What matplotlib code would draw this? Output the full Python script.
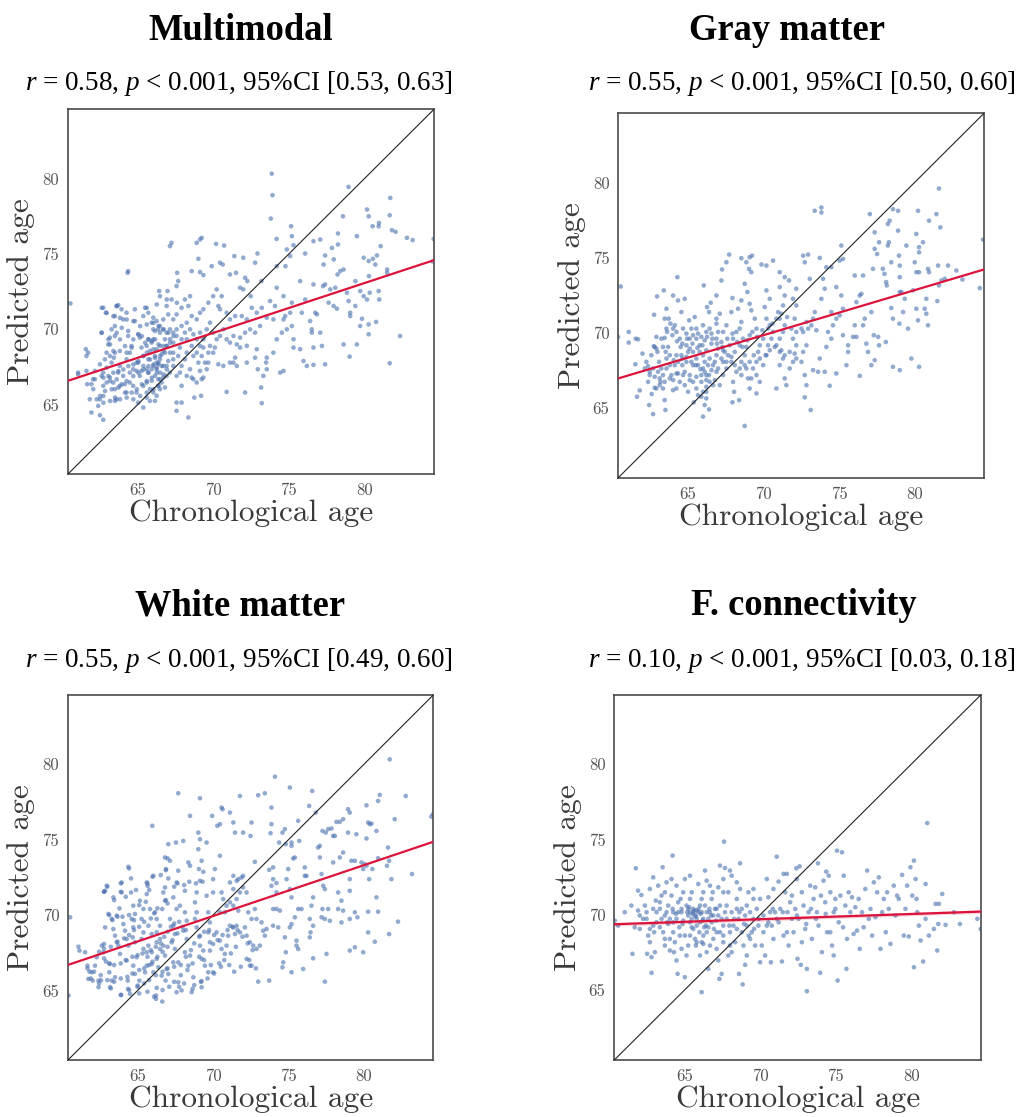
import matplotlib
matplotlib.use("Agg")
import matplotlib.pyplot as plt
import numpy as np

# ---------------- data ----------------
titles = ["Multimodal", "Gray matter", "White matter", "F. connectivity"]
stats = [r"$r$ = 0.58, $p$ < 0.001, 95%CI [0.53, 0.63]",
         r"$r$ = 0.55, $p$ < 0.001, 95%CI [0.50, 0.60]",
         r"$r$ = 0.55, $p$ < 0.001, 95%CI [0.49, 0.60]",
         r"$r$ = 0.10, $p$ < 0.001, 95%CI [0.03, 0.18]"]
tick_values = [65, 70, 75, 80]
tick_labels = ["65", "70", "75", "80"]
axis_limits = [60.38, 84.6]
# regression line: predicted age at left and right axis limits
fit_left = [66.58, 66.98, 66.69, 69.38]
fit_right = [74.59, 74.22, 74.86, 70.22]
fit_ci_half = [0.0, 0.0, 0.0, 0.12]

mm_pts = [
(60.56,71.72),(73.87,80.33),(73.92,78.9),(78.95,79.45),(81.71,78.72),(81.67,77.57),(80.17,77.95),(80.28,77.5),
(78.58,77.5),(80.54,76.84),(80.96,77.06),(80.94,76.84),(81.82,76.58),(82.06,76.47),(82.81,76.07),(83.19,75.92),
(84.58,76.0),(84.5,74.5),(81.07,75.52),(78.25,76.36),(79.5,76.18),(78.25,75.63),(77.85,75.4),(77.97,74.64),
(77.08,75.96),(76.63,75.85),(76.08,75.03),(77.4,74.9),(77.3,74.3),(79.95,74.75),(80.28,74.53),(80.56,74.68),
(80.72,74.3),(80.83,74.9),(80.3,73.53),(79.4,73.2),(81.5,73.97),(81.5,73.75),(78.4,73.86),(78.22,73.64),
(78.62,73.97),(76.63,72.98),(77.4,72.98),(77.74,72.65),(78.07,72.76),(78.84,72.43),(79.72,72.54),(79.95,72.2),
(80.17,71.98),(80.35,72.43),(80.94,72.54),(80.98,71.98),(78.95,71.88),(79.06,71.1),(79.4,71.55),(79.84,70.7),
(79.72,70.22),(80.28,70.33),(80.28,69.67),(80.77,70.49),(82.36,69.56),(81.67,67.75),(79.5,69.0),(79.02,68.19),
(78.62,69.0),(77.96,71.55),(78.18,71.37),(79.06,70.88),(77.63,71.77),(77.26,72.87),(76.75,71.1),(76.86,70.99),
(75.86,71.1),(76.41,70.55),(76.52,70.0),(76.52,69.78),(77.08,69.78),(77.19,68.9),(76.63,68.79),(77.4,67.68),
(76.63,67.64),(75.97,67.9),(76.19,67.57),(75.31,69.34),(75.31,68.79),(75.75,68.68),(75.2,70.22),(75.09,71.1),
(75.2,71.77),(75.75,73.2),(76.08,71.98),(74.65,72.2),(74.76,70.88),(74.65,70.66),(74.87,70.0),(74.54,69.78),
(74.2,69.34),(74.65,67.24),(74.43,67.13),(73.54,67.35),(73.32,66.91),(73.17,66.14),(73.21,65.1),(73.5,67.8),
(73.54,68.12),(73.98,68.45),(72.88,68.68),(72.77,68.12),(72.95,67.35),(72.22,68.9),(72.22,67.79),(72.11,65.81),
(71.78,68.79),(71.56,67.57),(71.34,67.79),(71.45,68.12),(71.11,67.79),(70.89,65.85),(70.67,67.57),(70.34,67.68),
(70.0,68.45),(70.11,68.79),(69.68,67.79),(69.57,67.35),(69.35,66.8),(69.24,66.69),(68.91,66.47),(68.69,66.69),
(68.75,65.47),(69.2,65.59),(68.36,64.15),(67.91,65.14),(67.58,64.59),(67.58,65.14),(67.91,66.25),(68.25,66.91),
(67.58,66.91),(67.14,67.13),(66.81,66.14),(66.48,66.03),(66.26,65.59),(66.15,65.25),(65.82,65.25),(65.6,65.47),
(65.38,64.81),(65.04,65.14),(64.93,65.81),(64.71,66.25),(64.27,65.81),(64.49,66.47),(63.61,65.36),(63.5,65.25),
(62.73,65.58),(62.51,65.36),(62.4,64.92),(61.84,65.36),(61.95,64.48),(62.51,64.3),(62.73,64.0),(61.67,66.36),
(61.95,66.36),(62.06,66.69),(61.62,67.24),(61.62,68.23),(61.58,68.68),(61.73,68.45),(61.07,67.13),(61.07,67.02),
(62.18,67.24),(62.51,67.68),(62.73,67.13),(62.95,67.46),(62.84,68.01),(63.17,68.23),(63.06,69.0),(62.62,69.78),
(62.73,71.43),(62.9,71.1),(63.5,70.88),(63.5,70.22),(63.28,70.0),(63.17,69.45),(63.5,69.56),(63.61,71.55),
(63.72,71.6),(63.94,71.33),(64.05,70.66),(64.27,71.1),(64.38,69.89),(64.38,69.56),(64.34,73.75),(64.38,73.86),
(64.82,71.33),(64.82,70.55),(65.04,69.67),(65.15,69.45),(64.6,68.9),(64.49,68.45),(64.27,68.01),(63.83,68.56),
(63.5,68.45),(63.43,68.12),(63.83,67.57),(63.72,67.13),(64.05,66.91),(63.83,66.25),(64.16,66.36),(64.49,67.13),
(64.71,67.35),(64.93,67.79),(64.93,67.24),(65.15,66.91),(65.38,67.57),(65.6,67.35),(65.71,68.01),(65.38,68.23),
(65.26,68.79),(65.6,68.9),(65.82,68.57),(65.93,69.12),(66.04,69.34),(65.71,69.34),(66.15,69.89),(66.37,70.0),
(66.48,69.78),(66.04,70.0),(65.93,70.44),(66.04,70.77),(65.71,71.1),(65.6,71.43),(65.38,70.88),(66.26,70.55),
(66.48,70.22),(66.7,70.0),(66.92,69.78),(67.14,70.0),(66.81,69.34),(66.92,68.9),(66.48,68.9),(66.26,68.68),
(66.15,68.23),(66.48,68.01),(66.37,67.68),(66.04,67.57),(66.26,67.35),(66.48,67.13),(66.15,66.91),(65.93,66.58),
(66.37,66.69),(66.7,66.8),(66.92,66.91),(66.92,67.57),(67.36,67.57),(67.36,68.01),(67.36,68.45),(67.69,68.23),
(67.8,68.79),(67.91,69.34),(67.58,69.56),(67.36,69.12),(68.13,69.78),(68.25,69.34),(68.58,68.9),(68.69,68.23),
(68.91,68.45),(69.02,67.79),(69.24,68.23),(69.13,68.9),(69.35,69.34),(69.13,69.78),(69.57,70.0),(69.79,70.44),
(70.0,69.78),(70.23,69.34),(70.45,69.56),(70.67,70.0),(70.89,69.34),(71.11,69.12),(71.34,69.56),(71.56,69.0),
(71.78,69.45),(72.11,69.78),(72.44,70.0),(72.77,69.78),(72.22,70.66),(71.89,70.88),(71.45,70.88),(71.11,70.66),
(70.89,71.1),(70.45,71.33),(70.34,71.55),(70.56,72.2),(70.23,72.65),(70.0,72.2),(69.68,71.77),(69.35,71.33),
(69.13,71.1),(68.91,70.66),(68.58,70.88),(68.36,71.55),(68.47,72.2),(68.13,71.98),(67.91,71.43),(67.58,70.99),
(67.36,70.66),(67.03,70.99),(66.7,70.66),(66.92,71.55),(67.25,71.98),(67.58,72.87),(67.69,73.2),(67.62,73.75),
(66.98,72.54),(66.43,72.54),(66.48,72.2),(67.14,75.52),(67.25,75.74),(68.91,75.74),(69.13,75.96),(69.24,76.07),
(69.02,74.68),(69.13,73.8),(68.58,73.86),(69.35,73.6),(69.9,74.19),(70.19,75.67),(70.45,74.42),(70.63,74.3),
(70.72,75.56),(71.4,74.86),(71.11,73.64),(71.51,73.75),(71.99,74.75),(71.78,72.76),(71.99,72.65),(72.26,73.2),
(72.77,74.42),(72.93,75.03),(72.48,72.2),(72.11,73.42),(73.81,77.35),(74.19,76.0),(73.19,73.2),(73.76,71.88),
(74.09,71.55),(74.2,72.76),(74.2,74.19),(74.78,74.19),(74.87,75.3),(75.2,76.18),(75.15,76.84),(75.31,75.58),
(75.09,74.86),(73.98,70.66),(73.54,70.77),(73.1,70.22),(72.88,71.1),(72.55,71.43),(73.21,71.43),
(62.95,68.45),(62.18,66.69),(62.07,66.03),(62.95,66.47),(63.17,66.8),(63.39,66.47),(63.5,66.03),(62.73,66.25),
(62.62,66.91),(63.28,67.79),(65.38,66.25),(65.6,66.47),(65.82,66.03),(66.04,65.81),(66.37,66.25),(66.59,66.47),
(66.26,67.79),(65.93,67.35),(65.71,67.13),(65.26,67.24),(65.04,67.79),(66.7,67.57),(67.03,67.9),(67.14,68.45),
(66.81,68.45),(66.59,68.34),(66.7,68.9),(67.14,69.34),(67.36,69.78),(67.58,70.0),(67.91,70.22),(68.25,70.44),
(68.47,70.0),(68.69,69.67),(68.91,69.34),(68.25,68.45),(68.13,68.01),(67.91,67.57),(67.8,67.13),(68.47,67.35),
(68.58,66.8),(69.13,67.24),(69.46,67.79),(69.68,68.45),(69.79,68.9),(69.35,68.79),
(62.63,69.77),(63.07,69.33),(63.18,69.0),(63.40,68.56),(63.62,69.77),(63.95,70.1),(63.84,69.33),(64.17,68.89),
(64.28,68.45),(64.61,68.78),(64.72,69.33),(65.06,69.66),(65.28,69.55),(65.50,69.11),(65.72,69.33),(65.94,69.22),
(66.16,69.33),(66.38,69.0),(66.05,68.67),(65.61,68.45),(65.39,68.23),(65.06,67.89),(64.72,67.67),(64.39,67.56),
(64.06,67.34),(63.73,67.23),(63.40,67.12),(63.07,66.9),(62.74,66.79),(63.18,66.57),(63.62,66.68),(63.95,66.35),
(64.28,66.57),(64.72,66.9),(65.06,67.12),(65.39,67.34),(65.72,67.56),(66.05,67.67),(66.38,67.78),(66.6,67.56),
(66.27,67.12),(65.94,66.79),(65.61,66.57),(65.28,66.35),(64.95,66.02),(64.61,65.8),(64.17,65.8),(63.73,66.13),
(63.29,66.02),(62.85,65.91),(62.52,65.58),(62.30,65.36),(62.74,65.13),(63.18,65.25),(63.51,65.47),(63.84,65.36),
(64.28,65.47),(64.72,65.36),(65.17,65.58),(65.61,65.8),(66.05,66.02),(66.38,66.24),(66.49,66.68),(66.71,67.01),
(66.93,67.34),(65.72,67.12),(66.27,67.45),(65.83,68.0),(66.16,68.11),(66.49,68.23),(66.71,68.56),(66.93,68.89),
(67.15,69.11),(67.37,69.55),(67.04,69.77),(66.71,69.99),(66.38,70.21),(66.05,70.43),(65.61,70.32),(65.17,70.21),
(64.72,70.54),(64.28,70.65),(63.84,70.76),(63.40,70.87),(62.96,71.09),(62.63,71.43),(63.62,71.54),(65.50,71.43),
(66.27,71.65),(66.93,71.98),(67.6,71.76)]

gm_pts = [
(60.54,73.09),(60.36,69.74),(61.07,70.07),(61.07,69.36),(61.53,69.62),(61.69,69.58),(61.51,67.92),(61.62,65.76),
(61.8,66.18),(61.98,68.63),(62.13,67.64),(62.35,67.79),(62.42,65.21),(62.68,64.61),(62.59,65.94),(62.79,66.36),
(62.73,69.12),(62.79,69.07),(62.9,69.74),(62.75,71.21),(62.95,72.43),(62.97,68.74),(63.08,68.08),(63.01,67.42),
(63.12,66.98),(63.17,66.75),(63.34,66.31),(63.45,65.54),(63.5,64.88),(63.39,72.83),(63.57,71.61),(63.45,70.95),
(63.57,70.29),(63.45,69.67),(63.68,69.07),(63.57,68.3),(63.79,67.86),(63.9,67.2),(64.01,66.87),(64.01,66.2),
(64.23,66.31),(63.72,70.95),(63.83,70.62),(64.01,70.29),(64.12,70.51),(64.23,70.07),(64.34,72.16),(64.29,73.71),
(64.01,72.49),(64.78,72.27),(64.56,71.39),(64.45,69.62),(64.51,69.07),(64.56,68.52),(64.62,67.86),(64.78,67.42),
(64.89,68.08),(65.0,68.74),(65.11,69.62),(65.07,70.84),(65.44,71.06),(65.55,70.29),(65.55,69.62),(65.77,69.18),
(65.33,68.74),(65.55,68.3),(65.33,67.86),(65.11,67.2),(65.33,66.75),(65.55,66.31),(65.38,65.39),(65.66,65.87),
(65.88,65.76),(65.99,66.09),(65.99,64.44),(66.1,65.21),(66.39,64.92),(66.21,65.65),(66.21,66.42),(66.43,66.75),
(66.21,67.2),(65.99,67.64),(66.32,67.86),(65.99,68.52),(66.21,68.85),(66.43,68.3),(66.1,69.51),(66.55,69.29),
(66.21,70.07),(66.55,69.96),(66.43,70.29),(65.99,70.51),(66.04,73.16),(66.26,71.72),(66.39,71.39),(66.5,72.01),
(66.88,70.95),(66.88,70.62),(67.1,71.28),(66.88,72.49),(67.21,73.49),(67.25,74.22),(67.54,74.7),(67.72,75.21),
(67.94,72.32),(67.87,71.39),(67.54,70.51),(67.32,70.07),(66.88,69.62),(66.99,68.96),(66.88,68.52),(66.77,68.08),
(66.88,67.42),(66.77,66.87),(66.66,66.53),(67.1,66.53),(67.32,67.2),(67.54,67.64),(67.32,68.08),(67.65,68.52),
(67.32,68.85),(67.76,69.18),(67.98,69.62),(68.2,70.07),(68.42,70.29),(68.53,70.73),(68.31,71.61),(68.53,72.16),
(68.75,73.27),(68.53,74.97),(68.86,74.7),(69.08,75.03),(69.24,75.14),(69.19,74.04),(69.04,74.26),(68.93,72.72),
(69.08,71.94),(69.19,71.5),(69.42,70.95),(69.53,70.29),(69.08,69.85),(68.86,69.07),(68.75,68.52),(68.53,68.08),
(68.2,67.42),(67.98,66.75),(68.05,66.09),(67.94,65.39),(68.38,65.54),(68.75,63.82),(69.08,66.31),(69.19,66.98),
(69.3,67.64),(69.53,68.08),(69.64,68.74),(69.75,69.18),(69.97,69.62),(69.53,67.2),(69.75,66.75),(69.53,65.98),
(69.97,67.86),(70.19,68.52),(70.3,69.18),(70.52,69.62),(70.63,70.07),(70.41,70.51),(70.19,70.95),(70.08,71.72),
(70.41,72.27),(70.19,72.83),(69.86,74.55),(70.19,74.48),(70.63,74.81),(71.07,74.04),(71.4,73.71),(71.07,73.05),
(71.69,73.49),(71.4,72.49),(71.29,71.83),(70.96,71.39),(71.07,70.95),(71.4,70.51),(71.29,70.07),(71.07,69.62),
(70.85,69.18),(71.18,68.85),(71.29,68.3),(71.07,67.86),(71.4,66.98),(71.51,66.53),(70.85,66.31),(71.73,67.64),
(71.95,68.08),(72.06,68.63),(72.17,69.18),(71.95,69.62),(72.06,70.95),(72.17,71.83),(71.95,72.27),(72.17,72.94),
(72.62,75.14),(72.95,75.21),(72.73,74.7),(73.06,73.6),(73.39,78.12),(73.83,78.34),(73.83,78.01),(73.72,74.99),
(73.94,73.6),(74.05,72.94),(73.83,72.27),(73.39,71.39),(73.28,70.95),(72.95,70.29),(72.62,70.07),(72.84,69.18),
(72.62,68.74),(72.51,68.08),(72.73,67.2),(72.84,66.53),(72.73,65.72),(73.12,64.88),(73.28,67.53),(73.61,67.42),
(74.05,67.42),(73.72,68.3),(74.16,69.07),(74.49,69.62),(74.27,70.07),(74.6,70.51),(74.82,70.95),(74.49,71.39),
(75.04,71.17),(74.82,73.05),(75.15,72.49),(75.15,75.81),(75.26,74.92),(75.04,74.81),(74.49,74.37),(74.16,74.37),
(75.26,71.61),(75.26,69.85),(75.6,68.74),(75.49,67.86),(74.82,67.31),(74.38,66.49),(75.6,69.18),(75.93,69.74),
(76.15,69.74),(76.04,70.51),(76.15,72.05),(76.04,73.82),(76.37,72.49),(76.48,72.6),(76.59,70.51),(76.7,70.95),
(76.81,69.29),(76.92,68.74),(76.37,67.15),(76.59,73.82),(77.04,77.9),(77.25,74.26),(77.36,75.59),(77.52,75.25),
(77.65,76.03),(77.36,76.69),(77.14,71.39),(77.3,69.85),(77.65,69.18),(77.59,69.74),(77.36,68.19),(77.14,67.86),
(78.1,69.4),(77.9,74.26),(78.01,73.93),(78.12,73.38),(78.16,73.16),(78.23,77.24),(78.35,77.46),(78.57,78.23),
(78.23,75.81),(78.3,76.03),(78.46,74.7),(78.46,71.66),(78.57,70.95),(78.57,67.75),(78.91,78.12),(78.91,76.8),
(78.97,75.14),(79.02,74.48),(79.02,73.71),(79.02,72.72),(79.13,72.72),(79.0,70.62),(79.02,67.53),(79.24,71.39),
(79.35,72.27),(79.46,75.81),(79.57,70.29),(79.79,68.3),(79.9,72.83),(80.01,74.7),(80.12,74.04),(80.12,76.58),
(80.23,78.12),(80.3,75.7),(80.3,75.36),(80.3,74.04),(80.12,71.61),(80.23,70.84),(80.3,67.75),(80.56,76.03),
(80.67,71.61),(80.78,72.27),(80.78,71.28),(80.89,74.26),(80.96,74.04),(80.96,77.46),(81.45,77.9),(81.62,79.6),
(81.71,77.02),(81.56,74.48),(81.51,72.12),(81.62,73.16),(81.78,73.49),(82.0,73.6),(82.22,74.48),(82.77,74.15),
(83.17,73.55),(84.32,72.98),(84.54,76.2),(80.89,70.51),
(64.67,70.29),(64.89,69.96),(65.22,70.29),(65.33,69.85),(65.66,69.96),(65.88,69.74),(64.89,69.18),(65.11,68.96),
(65.77,68.74),(65.66,67.86),(65.88,67.2),(66.1,68.08),(66.55,67.53),(66.21,66.87),(64.23,68.52),(64.12,67.86),
(64.34,67.31),(64.45,66.75),(64.78,66.53),(65.0,66.09),(63.57,67.64),(63.34,67.2),(63.23,67.64),(62.68,67.64),
(62.46,67.2),(62.35,66.75),(62.9,66.31),(66.99,70.07),(67.21,69.4),(67.43,68.74),(67.87,68.08),(68.09,68.74),
(68.42,69.18),(68.64,69.62),(68.53,67.2),(68.86,67.64),(68.97,66.98),
(63.34,69.07),(63.52,68.74),(63.79,68.52),(64.05,68.19),(64.34,68.08),(64.62,68.3),(64.89,68.41),(65.22,68.08),
(65.51,67.86),(65.82,67.59),(66.1,67.42),(66.39,67.2),(66.66,67.86),(66.99,67.64),(67.21,68.3),(67.54,68.08),
(67.87,68.41),(68.09,67.86),(68.42,67.64),(68.75,67.86),(69.08,68.08),(69.35,68.52),(69.75,68.3),(70.14,68.52),
(70.41,68.85),(70.74,69.07),(71.07,68.74),(71.4,68.52),(71.73,68.74),(72.17,68.3),(65.88,66.75),(66.21,66.09),
(65.55,67.09),(65.11,66.87),(64.67,67.2),(64.23,67.31),(63.79,66.98),(63.45,66.75),(63.12,66.53),(62.79,67.09),
(62.46,67.42),(62.24,68.08),(62.57,68.52),(62.9,68.96),(63.23,69.62),(63.61,70.07),(63.96,69.85),(64.27,69.45),
(64.62,69.29),(64.93,69.62),(65.29,69.29),(65.62,69.01),(65.95,69.18),(66.26,69.74),(66.61,69.62),(66.92,69.29),
(67.27,69.07),(67.6,69.62),(67.94,69.96),(68.25,69.4),(68.6,69.07),(68.93,69.51),(69.26,70.07),(69.57,69.74),
(69.92,70.18),(70.3,70.29),(70.59,70.62),(70.85,70.95),(71.18,71.28),(71.56,71.06),(71.84,70.29),(72.17,70.07),
(72.51,70.29),(72.84,70.73),(73.17,70.51),(73.5,70.18)]

wm_pts = [
(60.52,69.85),(60.41,64.66),(61.07,67.9),(61.14,67.64),(61.51,67.53),(61.67,66.64),(61.8,66.25),(61.73,65.76),
(62.02,65.65),(61.95,66.2),(62.17,66.64),(62.28,67.2),(62.4,65.65),(62.57,65.67),(62.4,65.21),(62.62,67.97),
(62.77,68.08),(62.84,69.18),(62.73,67.53),(62.9,66.91),(63.17,66.75),(63.12,66.2),(63.28,65.65),(63.5,65.87),
(63.17,65.21),(62.84,71.61),(62.95,71.94),(62.77,71.55),(63.06,70.07),(63.28,69.74),(63.39,69.07),(63.5,68.63),
(63.61,68.19),(63.72,67.97),(63.83,67.42),(63.39,71.17),(63.61,69.96),(63.79,70.44),(63.94,72.16),(63.94,71.5),
(63.9,64.7),(64.05,69.4),(64.16,68.96),(64.27,68.41),(64.38,67.97),(64.27,66.98),(64.34,65.65),(64.36,65.1),
(64.49,64.77),(64.38,73.2),(64.56,72.43),(64.56,71.5),(64.71,70.62),(64.82,70.07),(64.6,69.74),(64.71,69.18),
(64.67,68.52),(64.82,68.19),(64.93,67.2),(64.71,66.64),(64.82,66.09),(65.0,65.32),(65.11,65.65),(64.89,71.66),
(65.15,70.95),(65.38,70.4),(65.26,69.74),(65.38,68.85),(65.26,68.41),(65.38,67.75),(65.6,67.53),(65.6,72.16),
(65.66,71.94),(65.6,71.39),(65.82,70.4),(65.71,69.29),(65.93,68.74),(65.71,67.97),(65.93,67.53),(65.6,66.64),
(65.49,66.2),(65.93,66.75),(66.04,66.2),(66.26,67.09),(66.37,66.53),(66.59,65.98),(66.21,64.66),(66.21,64.44),
(66.63,64.26),(66.26,65.17),(65.97,75.92),(66.04,72.6),(66.15,70.18),(66.26,69.74),(66.48,69.29),(66.26,68.85),
(66.48,68.41),(66.7,67.97),(66.26,68.19),(66.48,67.75),(66.81,67.31),(66.92,66.42),(67.03,66.09),(66.85,65.65),
(66.63,70.4),(66.81,70.95),(66.7,71.5),(66.81,71.83),(67.03,72.43),(66.88,73.05),(66.81,73.82),(67.03,74.7),
(67.14,73.6),(67.14,69.74),(67.36,69.29),(67.47,68.74),(67.25,68.19),(67.47,67.75),(67.36,66.86),(67.69,66.86),
(67.69,65.54),(67.58,64.88),(67.91,65.0),(67.58,70.4),(67.8,70.62),(67.36,71.17),(67.58,72.16),(67.69,72.94),
(67.69,78.08),(67.54,74.81),(68.02,74.92),(68.13,71.61),(68.13,70.18),(68.25,69.62),(68.02,68.96),(68.25,68.41),
(68.13,67.53),(68.47,67.31),(68.36,66.64),(68.58,64.88),(68.64,65.1),(68.69,65.87),(69.24,65.21),(69.24,65.61),
(68.47,76.58),(68.36,73.49),(68.47,73.27),(69.13,77.75),(69.02,75.47),(69.13,75.03),(69.02,74.37),(69.24,73.6),
(69.06,73.05),(69.35,72.87),(69.13,72.27),(68.91,71.5),(68.8,70.84),(68.91,70.18),(68.8,69.74),(68.91,69.18),
(69.13,68.63),(69.13,67.97),(69.35,67.64),(69.24,67.09),(69.46,66.64),(69.68,66.2),(70.0,66.2),(69.57,74.81),
(69.57,71.28),(69.68,70.18),(69.79,69.51),(69.68,68.85),(69.79,68.19),(69.79,67.64),(70.0,68.08),(70.0,71.5),
(70.0,72.38),(70.12,73.05),(69.94,76.58),(70.28,75.92),(70.45,76.03),(70.56,77.13),(70.45,73.93),(70.63,77.02),
(71.12,76.8),(71.34,76.14),(71.45,75.47),(71.78,77.9),(71.99,75.47),(72.48,75.25),(72.55,76.14),(72.77,73.53),
(72.99,77.95),(73.43,78.08),(73.87,77.13),(73.87,76.03),(73.81,75.43),(74.1,79.18),(73.98,73.16),(73.72,73.0),
(74.2,72.12),(73.98,72.38),(73.87,71.94),(74.2,71.5),(74.38,74.81),(74.6,75.47),(74.76,75.7),(74.82,74.7),
(75.09,78.46),(75.2,74.81),(75.2,74.59),(75.31,73.75),(75.42,73.82),(75.09,71.72),(75.2,71.17),(74.87,72.38),
(74.98,73.05),(75.64,76.25),(75.71,74.92),(76.08,73.16),(76.19,72.6),(76.08,72.6),(75.64,70.4),(75.86,70.4),
(75.42,69.85),(75.2,69.4),(75.09,69.18),(74.76,68.52),(74.82,67.53),(74.65,66.86),(74.6,66.53),(75.2,66.2),
(75.53,68.3),(75.53,67.97),(75.64,67.75),(75.97,66.42),(76.41,68.52),(76.46,68.85),(76.41,69.74),(76.63,69.29),
(76.52,70.62),(76.63,71.17),(76.37,77.24),(76.57,78.23),(76.81,76.8),(76.96,74.48),(77.08,74.59),(77.08,73.82),
(77.19,72.72),(77.25,70.4),(77.19,69.85),(77.41,69.74),(77.3,71.94),(77.41,71.72),(76.63,67.13),(77.41,65.58),
(77.52,67.42),(77.63,70.4),(77.74,69.62),(77.25,75.58),(77.47,75.47),(77.63,75.7),(77.85,75.74),(77.96,75.25),
(78.07,75.25),(77.96,73.49),(78.18,76.18),(78.4,76.18),(78.62,76.36),(78.4,73.82),(78.62,74.15),(78.29,71.5),
(78.51,70.95),(78.29,70.4),(78.51,69.51),(78.62,70.29),(78.95,77.02),(79.06,76.8),(78.95,75.47),(79.17,73.6),
(79.4,73.6),(79.06,72.38),(79.06,71.61),(79.06,69.74),(79.06,67.64),(79.4,67.86),(79.5,75.36),(79.57,69.85),
(79.4,70.18),(79.84,73.49),(79.95,73.05),(80.06,73.38),(80.17,77.28),(80.17,75.08),(80.28,76.14),(80.39,76.03),
(80.5,76.07),(80.17,73.27),(80.35,72.38),(80.28,70.22),(80.28,68.85),(79.95,67.53),(80.56,73.05),(80.72,68.23),
(80.83,71.17),(80.94,70.22),(80.94,73.77),(80.94,77.57),(81.05,77.97),(80.83,75.58),(81.6,74.48),(81.53,73.27),
(81.67,73.6),(81.67,68.74),(81.71,80.33),(81.82,72.38),(82.04,76.36),(82.26,69.56),(82.77,77.9),(83.19,72.72),
(84.47,76.53),(84.58,76.69),
(70.23,68.85),(70.45,68.3),(70.56,67.75),(70.78,67.42),(70.89,67.97),(71.0,68.63),(71.11,69.29),(71.34,69.18),
(71.45,68.74),(71.56,69.29),(71.78,68.85),(72.11,69.18),(72.22,68.63),(72.44,68.19),(72.66,67.97),(72.88,67.75),
(73.1,67.97),(73.43,68.63),(73.54,69.07),(73.98,69.29),(74.32,69.18),(72.44,66.64),(72.55,66.64),(72.99,65.58),
(73.72,65.65),(72.22,67.09),(71.34,70.62),(71.56,71.06),(71.78,71.5),(71.99,71.83),(71.67,72.38),(71.56,72.27),
(71.34,71.72),(71.12,70.84),(70.89,70.62),(70.78,70.18),(70.45,70.18),(70.67,71.06),(70.56,71.5),(71.12,72.16),
(71.34,72.6),(71.99,72.6),(72.22,71.5),(72.55,69.74),(72.33,70.18),(72.77,70.4),(72.88,69.74),(73.21,69.51),
(73.32,68.96),(73.98,70.4),(74.2,70.4),(74.43,70.29),(71.89,72.49),(71.67,70.29),
(62.77,71.54),(62.99,71.88),(63.88,72.1),(64.43,73.09),(63.88,71.54),(64.21,71.21),(63.44,70.99),(63.11,70.0),
(63.33,69.66),(63.66,69.89),(63.99,69.89),(64.43,70.0),(64.76,69.66),(65.10,70.66),(65.54,70.88),(65.65,72.1),
(65.76,71.66),(65.98,72.54),(66.53,72.65),(66.87,72.98),(66.98,73.76),(67.42,71.88),(67.64,72.1),(68.08,71.99),
(68.42,72.21),(68.86,72.1),(69.3,72.21),(66.87,70.99),(66.98,70.77),(66.31,70.44),(66.09,70.11),(65.87,69.77),
(65.43,69.55),(65.10,69.22),(64.76,69.0),(64.43,68.67),(64.10,68.45),(63.66,68.23),(63.22,67.89),(62.77,67.78),
(62.44,67.56),(62.77,67.12),(63.11,66.79),(63.44,66.68),(63.88,66.79),(64.21,67.01),(64.65,67.23),(64.99,67.34),
(65.32,67.45),(65.65,67.23),(65.87,67.67),(66.2,67.89),(66.53,68.12),(66.76,68.56),(66.98,68.89),(67.2,69.22),
(67.42,69.44),(67.75,69.55),(67.97,69.22),(68.19,69.0),(67.64,68.78),(67.31,68.34),(66.98,67.89),(66.65,67.56),
(66.31,67.23),(65.98,66.9),(65.76,66.68),(65.43,66.46),(65.10,66.35),(64.65,66.12),(64.32,65.9),(63.88,65.79),
(63.44,65.57),(62.99,65.68),(62.55,66.01),(62.11,66.24),(61.67,66.46),(61.89,65.79),(62.44,65.46),(63.22,65.13),
(63.88,64.69),(64.43,65.02),(64.99,65.24),(65.43,65.46),(65.76,65.68),(66.2,66.01),(66.65,66.24),(66.98,66.46),
(67.42,66.57),(67.86,66.68),(68.19,67.23),(68.53,67.67),(68.75,68.12),(69.08,68.56),(69.41,68.89),(69.74,69.0),
(70.07,68.67),(70.3,68.34),(70.63,68.67),(70.96,69.0),(71.29,69.22),(71.62,69.0),(71.95,68.56),(72.29,68.12),
(72.62,67.67),(71.51,67.89),(71.18,67.45),(70.74,67.01),(70.41,66.79),(69.85,66.68),(69.41,67.01),(69.08,67.23),
(68.64,66.79),(68.3,66.35),(67.86,66.01),(67.42,65.57),(67.09,65.24),(66.65,65.02),(66.09,64.58),(65.65,64.91),
(65.10,64.8),(67.75,65.24),(68.08,65.46),(68.75,65.35),(69.19,65.57),(69.63,65.79),(70.07,66.12),(70.52,66.57),
(71.07,66.68),(71.4,66.24),(71.84,66.57),(72.4,67.01),(72.84,66.46)]

fc_pts = [
(60.41,69.62),(60.63,69.29),(61.07,70.18),(61.51,70.62),(61.58,67.42),(61.73,69.18),(61.8,73.09),(61.95,71.61),
(61.95,70.29),(62.06,69.07),(62.17,71.32),(62.28,69.74),(62.51,70.18),(62.51,69.74),(62.55,67.42),(62.62,68.63),
(62.73,71.72),(62.73,68.19),(62.84,66.16),(62.84,67.2),(62.95,72.49),(62.95,69.29),(63.01,68.85),(63.06,67.53),
(63.17,70.18),(63.28,71.94),(63.39,70.84),(63.39,70.4),(63.5,69.74),(63.57,73.16),(63.61,68.85),(63.72,71.5),
(63.72,67.97),(63.83,72.16),(63.83,70.18),(63.94,70.62),(63.94,69.4),(64.05,68.41),(64.05,67.64),(64.16,71.28),
(64.23,73.93),(64.27,70.18),(64.27,68.85),(64.38,68.19),(64.49,71.94),(64.49,66.98),(64.56,66.09),(64.6,70.84),
(64.67,69.18),(64.71,68.63),(64.82,70.18),(64.82,67.75),(64.93,71.5),(64.93,69.62),(65.04,72.38),(65.04,68.63),
(65.04,65.87),(65.15,67.31),(65.26,70.4),(65.26,69.96),(65.38,71.06),(65.38,70.18),(65.49,71.5),(65.49,69.74),
(65.49,69.18),(65.6,70.4),(65.6,70.18),(65.71,69.96),(65.71,68.41),(65.77,67.97),(65.82,70.29),(65.82,69.74),
(65.93,70.18),(65.93,72.05),(66.0,68.85),(66.04,67.31),(66.15,70.18),(66.15,64.88),(66.26,71.5),(66.26,69.74),
(66.26,68.08),(66.37,72.94),(66.37,70.62),(66.43,69.29),(66.48,68.85),(66.48,67.53),(66.59,66.42),(66.7,71.94),
(66.7,70.18),(66.81,71.06),(66.81,69.51),(66.88,71.5),(66.92,68.41),(67.03,70.4),(67.14,68.85),(67.14,67.75),
(67.25,71.83),(67.25,69.96),(67.32,65.76),(67.36,73.27),(67.47,66.09),(67.58,72.38),(67.58,69.29),(67.58,68.19),
(67.63,74.86),(67.69,73.11),(67.8,70.62),(67.8,69.74),(67.91,71.5),(67.91,67.31),(68.02,72.94),(68.02,68.85),
(68.13,72.6),(68.13,70.18),(68.25,69.29),(68.36,68.19),(68.47,71.06),(68.47,70.4),(68.58,69.74),(68.62,66.09),
(68.69,73.42),(68.69,71.72),(68.8,68.85),(68.86,65.39),(68.91,67.97),(69.02,69.96),(69.02,66.69),(69.13,70.62),
(69.13,69.29),(69.24,71.5),(69.35,70.18),(69.35,68.41),(69.46,68.85),(69.57,71.72),(69.57,69.74),(69.68,67.97),
(69.79,70.4),(69.9,69.29),(70.01,71.06),(70.12,67.97),(70.23,69.96),(70.34,67.31),(70.45,69.29),(70.56,71.17),
(70.67,70.18),(70.72,66.86),(70.78,69.29),(70.89,71.72),(70.89,68.41),(71.0,70.18),(71.11,73.86),(71.11,69.74),
(71.23,72.21),(71.34,70.4),(71.45,66.91),(71.56,72.72),(71.56,68.63),(71.67,71.5),(71.78,72.72),(71.82,70.18),
(71.89,67.97),(72.0,70.84),(72.11,69.74),(72.22,68.85),(72.33,70.4),(72.4,73.09),(72.44,72.38),(72.48,67.09),
(72.55,69.74),(72.62,73.22),(72.7,66.69),(72.77,71.5),(72.88,70.62),(72.99,69.07),(73.1,66.42),(73.1,64.94),
(73.21,70.18),(73.32,71.94),(73.43,68.41),(73.54,71.06),(73.65,71.83),(73.76,70.18),(73.83,73.42),(73.87,69.29),
(73.98,66.16),(74.09,67.53),(74.2,72.27),(74.31,70.84),(74.38,72.87),(74.43,68.85),(74.54,72.6),(74.65,71.5),
(74.76,67.97),(74.87,70.18),(74.87,67.31),(74.98,71.06),(75.09,74.26),(75.13,65.65),(75.2,69.51),(75.31,71.28),
(75.42,74.15),(75.49,69.18),(75.53,72.6),(75.64,70.62),(75.71,66.42),(75.75,68.41),(75.86,71.5),(75.97,70.18),
(76.08,71.17),(76.19,68.74),(76.3,70.51),(76.41,68.96),(76.52,71.06),(76.59,67.75),(76.74,70.18),(76.85,69.18),
(76.96,71.72),(77.08,72.94),(77.19,69.74),(77.3,70.4),(77.41,68.63),(77.52,72.16),(77.63,69.85),(77.74,71.5),
(77.85,72.49),(77.96,67.75),(78.07,70.18),(78.18,71.06),(78.31,68.85),(78.4,71.5),(78.51,70.4),(78.62,68.08),
(78.84,71.94),(78.95,69.96),(79.06,71.28),(79.17,71.06),(79.39,72.65),(79.5,68.63),(79.61,70.4),(79.72,71.94),
(79.83,68.57),(79.94,73.16),(80.06,71.28),(80.17,73.6),(80.17,66.53),(80.28,72.38),(80.34,71.06),(80.39,70.18),
(80.5,69.29),(80.61,68.3),(80.78,66.91),(80.94,72.05),(80.94,69.74),(81.05,76.09),(81.16,68.63),(81.49,69.07),
(81.6,70.73),(81.71,67.64),(81.78,69.4),(81.82,70.73),(82.04,71.39),(82.26,69.34),(82.82,70.18),(83.21,69.4),
(84.36,69.74),(84.58,69.07),
(65.15,70.62),(65.38,69.51),(65.6,69.07),(65.82,69.29),(66.04,69.51),(66.04,70.62),(66.15,71.06),(66.48,70.18),
(66.59,69.74),(66.59,69.18),(66.92,69.96),(67.14,70.4),(67.36,70.62),(67.47,69.74),(64.49,69.74),(64.27,69.51),
(64.05,69.74),(63.72,69.96),(63.39,69.18),(63.17,69.51),(64.6,70.18),(64.82,70.4),(65.38,68.63),(65.82,68.19),
(66.26,68.63),(66.7,67.97),(67.58,68.63),(68.02,67.97),(68.47,69.07),(68.8,70.4),
(62.95,70.4),(63.12,70.95),(63.5,71.28),(63.87,69.51),(64.23,70.4),(64.45,70.07),(64.76,71.06),(64.89,69.4),
(65.2,70.18),(65.33,70.51),(65.55,70.07),(65.66,70.29),(65.77,69.91),(65.95,70.4),(66.08,70.07),(66.21,69.62),
(66.32,69.18),(66.66,70.4),(66.77,69.96),(66.96,69.07),(67.1,69.62),(67.36,68.85),(67.69,70.18),(67.98,69.29),
(68.29,69.74),(68.64,70.18),(68.95,69.4),(69.26,68.63),(69.61,69.07),(69.92,69.74),(70.23,68.85),(70.56,69.51),
(70.85,70.4),(71.23,69.51),(71.51,70.18),(71.78,68.85),(72.11,71.28),(72.44,69.96),(72.77,68.19),(73.06,69.4),
(73.37,70.4),(73.7,69.74),(74.03,71.28),(74.34,70.07),(74.65,68.85),(74.98,70.4),(62.73,69.07),(62.4,70.62),
(62.06,69.96),(63.72,68.41),(64.32,67.53),(65.26,67.97),(66.15,68.19),(67.25,66.98),(68.13,67.53),(69.13,67.31),
(70.01,66.86),(64.16,72.38),(65.38,72.6),(66.48,72.27),(67.58,71.5),(68.47,72.16),(69.57,71.06),(70.45,72.38)]

all_pts = [mm_pts, gm_pts, wm_pts, fc_pts]

# ---------------- style ----------------
plt.rcParams['mathtext.fontset'] = 'custom'
plt.rcParams['mathtext.rm'] = 'Liberation Serif'
plt.rcParams['mathtext.it'] = 'Liberation Serif:italic'

W, H = 1016, 1117
fig = plt.figure(figsize=(W / 100, H / 100), dpi=100)

# axes boxes in pixels: left, top, right, bottom
boxes = [(67.7, 109.3, 434.0, 474.3), (618.3, 113.3, 984.0, 477.7),
         (68.0, 695.0, 433.3, 1060.0), (614.3, 694.7, 981.0, 1060.0)]
title_pos = [(241, 40), (787, 40), (240.5, 615), (804, 615)]
stat_pos = [(238.5, 90), (801.5, 90), (238.5, 667), (801.5, 667)]

point_color = '#4c72b0'
line_red = '#dc143c'
spine_color = '#4a4a4a'

for i in range(4):
    l, t, r, b = boxes[i]
    ax = fig.add_axes([l / W, 1 - b / H, (r - l) / W, (b - t) / H])
    pts = np.array(all_pts[i])
    ax.scatter(pts[:, 0], pts[:, 1], s=11, color=point_color, alpha=0.6,
               edgecolors='none', zorder=2)
    lo, hi = axis_limits
    ax.plot([lo, hi], [lo, hi], color='#222222', lw=0.8, zorder=3)
    xs = np.array([lo, hi])
    ys = np.array([fit_left[i], fit_right[i]])
    if fit_ci_half[i] > 0:
        ax.fill_between(xs, ys - fit_ci_half[i], ys + fit_ci_half[i],
                        color=line_red, alpha=0.18, lw=0, zorder=3)
    ax.plot(xs, ys, color=line_red, lw=1.6, zorder=4)
    ax.set_xlim(lo, hi)
    ax.set_ylim(lo, hi)
    ax.set_xticks(tick_values)
    ax.set_yticks(tick_values)
    ax.set_xticklabels(tick_labels, fontfamily='cmr10', fontsize=12, color='#555555')
    ax.set_yticklabels(tick_labels, fontfamily='cmr10', fontsize=12, color='#555555')
    ax.tick_params(length=0, pad=6.3)
    for sp in ax.spines.values():
        sp.set_color(spine_color)
        sp.set_linewidth(1.2)
    ax.set_xlabel('Chronological age', fontfamily='cmr10', fontsize=22.6,
                  color='#3a3a3a', labelpad=1)
    ax.set_ylabel('Predicted age', fontfamily='cmr10', fontsize=22.6,
                  color='#3a3a3a', labelpad=5)
    tx, ty = title_pos[i]
    fig.text(tx / W, 1 - ty / H, titles[i], ha='center', va='baseline',
             fontfamily='Liberation Serif', fontweight='bold', fontsize=26.3,
             color='black')
    sx, sy = stat_pos[i]
    fig.text(sx / W, 1 - sy / H, stats[i], ha='center', va='baseline',
             fontfamily='Liberation Serif', fontsize=19.5, color='black')

fig.savefig('out.png', dpi=100, facecolor='white')
